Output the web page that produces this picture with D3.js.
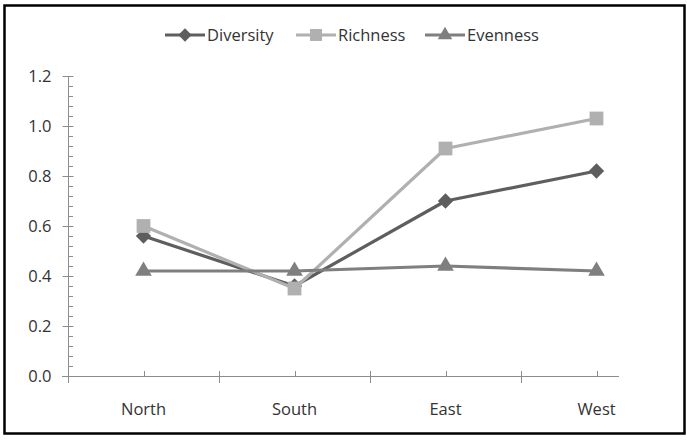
<!DOCTYPE html>
<html>
<head>
<meta charset="utf-8">
<script src="https://cdn.jsdelivr.net/npm/d3@7/dist/d3.min.js"></script>
<style>
  html, body { margin: 0; padding: 0; background: #fff; }
  svg { display: block; }
  text { font-family: "Open Sans", "DejaVu Sans", sans-serif; fill: #333; }
</style>
</head>
<body>
<svg id="chart" width="687" height="445"></svg>
<script>
// Regions and the three indices measured for each
const categories = ["North", "South", "East", "West"];
const diversity = [0.56, 0.36, 0.70, 0.82];
const richness  = [0.60, 0.35, 0.91, 1.03];
const evenness  = [0.42, 0.42, 0.44, 0.42];
const yTicks = [0, 0.2, 0.4, 0.6, 0.8, 1.0, 1.2];

const series = [
  { name: "Diversity", values: diversity, color: "#5e5e5e", marker: d3.symbolDiamond2, size: 150 },
  { name: "Richness",  values: richness,  color: "#b0b0b0", marker: d3.symbolSquare,   size: 190 },
  { name: "Evenness",  values: evenness,  color: "#7f7f7f", marker: d3.symbolTriangle, size: 120 }
];

const svg = d3.select("#chart");
const axisColor = "#8c8c8c";

// outer frame
svg.append("rect")
  .attr("x", 4.5).attr("y", 5.5).attr("width", 680).attr("height", 428)
  .attr("fill", "#fff").attr("stroke", "#000").attr("stroke-width", 2.5);

const x = d3.scaleBand().domain(categories).range([68, 672]);
const y = d3.scaleLinear().domain([0, 1.2]).range([376, 76]);
const cx = c => x(c) + x.bandwidth() / 2;

// y axis: labels and major ticks
const yAxis = d3.axisLeft(y).tickValues(yTicks).tickFormat(d3.format(".1f"))
  .tickSizeInner(6).tickSizeOuter(0).tickPadding(11);
const gy = svg.append("g").attr("transform", "translate(68.5,0)").call(yAxis);
gy.select(".domain").remove();
gy.selectAll(".tick line").attr("stroke", axisColor).attr("x2", 5).attr("x1", -6);
gy.selectAll(".tick text").style("font-size", "16.5px").attr("fill", "#333");

// y minor ticks on the inside
const yMinor = d3.range(0, 1.2001, 0.04).filter(v => Math.abs(Math.round(v * 5) - v * 5) > 1e-6);
svg.append("g").selectAll("line").data(yMinor).join("line")
  .attr("x1", 68.5).attr("x2", 73)
  .attr("y1", d => Math.round(y(d)) + 0.5).attr("y2", d => Math.round(y(d)) + 0.5)
  .attr("stroke", axisColor);

// y axis line
svg.append("line")
  .attr("x1", 68.5).attr("x2", 68.5).attr("y1", y(1.2)).attr("y2", 383)
  .attr("stroke", axisColor);

// x axis line
svg.append("line")
  .attr("x1", 62).attr("x2", 619).attr("y1", 376.5).attr("y2", 376.5)
  .attr("stroke", axisColor);

// x major ticks at category boundaries
const boundaries = categories.slice(1).map(c => x(c));
svg.append("g").selectAll("line").data(boundaries).join("line")
  .attr("x1", d => Math.round(d) + 0.5).attr("x2", d => Math.round(d) + 0.5)
  .attr("y1", 371).attr("y2", 383)
  .attr("stroke", axisColor);

// x minor ticks at category centres
svg.append("g").selectAll("line").data(categories).join("line")
  .attr("x1", d => Math.round(cx(d)) + 0.5).attr("x2", d => Math.round(cx(d)) + 0.5)
  .attr("y1", 371).attr("y2", 376)
  .attr("stroke", axisColor);

// category labels
svg.append("g").selectAll("text").data(categories).join("text")
  .attr("x", d => cx(d)).attr("y", 415)
  .attr("text-anchor", "middle")
  .style("font-size", "16.5px")
  .text(d => d);

// series lines and markers
const line = d3.line().x((d, i) => cx(categories[i])).y(d => y(d));
series.forEach(s => {
  svg.append("path")
    .datum(s.values)
    .attr("d", line)
    .attr("fill", "none")
    .attr("stroke", s.color)
    .attr("stroke-width", 3.2)
    .attr("stroke-linejoin", "round");
  svg.append("g").selectAll("path").data(s.values).join("path")
    .attr("d", d3.symbol().type(s.marker).size(s.size))
    .attr("transform", (d, i) => `translate(${cx(categories[i])},${y(d)})`)
    .attr("fill", s.color);
});

// legend
const legendItems = [
  { x: 165, s: series[0] },
  { x: 296, s: series[1] },
  { x: 425, s: series[2] }
];
const lg = svg.append("g");
legendItems.forEach(item => {
  const g = lg.append("g").attr("transform", `translate(${item.x},35)`);
  g.append("line").attr("x1", 0).attr("x2", 40).attr("y1", 0).attr("y2", 0)
    .attr("stroke", item.s.color).attr("stroke-width", 3.2);
  g.append("path")
    .attr("d", d3.symbol().type(item.s.marker).size(item.s.size * 0.75))
    .attr("transform", "translate(20,0)")
    .attr("fill", item.s.color);
  g.append("text").attr("x", 42).attr("y", 0).attr("dy", "0.35em")
    .style("font-size", "16.5px")
    .text(item.s.name);
});
</script>
</body>
</html>
